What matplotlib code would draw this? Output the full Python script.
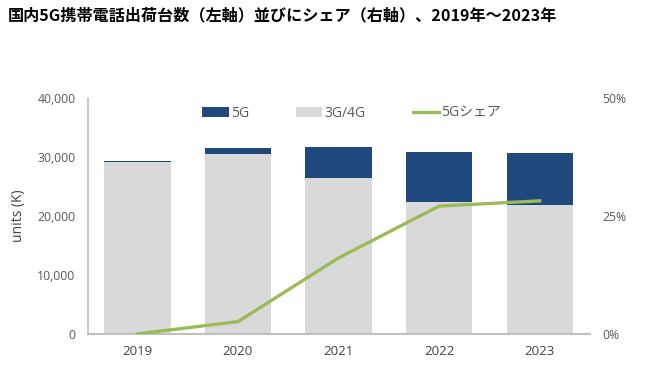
import numpy as np
from matplotlib import pyplot as plt

plt.rcParams['font.family'] = ['Open Sans', 'Noto Sans CJK JP', 'DejaVu Sans']

# data (thousand units, share in %)
years = ['2019', '2020', '2021', '2022', '2023']
units_5g = [100, 1000, 5300, 8400, 8800]
units_3g4g = [29200, 30500, 26400, 22400, 21900]
share_5g = [0.0, 2.6, 16.1, 27.1, 28.2]

c_5g = '#1f497d'
c_old = '#d9d9d9'
c_line = '#9bbb59'
c_txt = '#595959'

fig = plt.figure(figsize=(6.52, 3.86), dpi=100)
ax = fig.add_axes([0.135, 0.135, 0.77, 0.611])
x = np.arange(len(years))

b1 = ax.bar(x, units_3g4g, width=0.66, color=c_old, label='3G/4G', zorder=2)
b2 = ax.bar(x, units_5g, width=0.66, bottom=units_3g4g, color=c_5g, label='5G', zorder=2)

ax.set_xlim(-0.49, 4.5)
ax.set_ylim(0, 40000)
ax.set_yticks([0, 10000, 20000, 30000, 40000])
ax.set_yticklabels(['0', '10,000', '20,000', '30,000', '40,000'])
ax.set_xticks(x)
ax.set_xticklabels(years)
ax.tick_params(axis='y', length=0, labelsize=8.8, colors=c_txt, pad=9)
ax.tick_params(axis='x', length=0, labelsize=9.5, colors='#404040', pad=8)
ax.set_ylabel('units (K)', fontsize=10, color='#404040', labelpad=8)
for s in ['top', 'right']:
    ax.spines[s].set_visible(False)
ax.spines['left'].set_color('#bfbfbf')
ax.spines['bottom'].set_color('#bfbfbf')
ax.spines['left'].set_linewidth(1.2)
ax.spines['bottom'].set_linewidth(1.5)

ax2 = ax.twinx()
ln, = ax2.plot(x, share_5g, color=c_line, linewidth=2.4, label='5Gシェア', zorder=3)
ax2.set_ylim(0, 50)
ax2.set_yticks([0, 25, 50])
ax2.set_yticklabels(['0%', '25%', '50%'])
ax2.tick_params(axis='y', length=0, labelsize=8.8, colors=c_txt, pad=9)
for s in ax2.spines.values():
    s.set_visible(False)

ax.legend([b2, b1, ln], ['5G', '3G/4G', '5Gシェア'], loc='upper center',
          bbox_to_anchor=(0.525, 1.02), ncol=3, frameon=False, fontsize=10,
          labelcolor=c_txt, handlelength=1.9, handleheight=0.7,
          handletextpad=0.15, columnspacing=3.4)

fig.text(0.012, 0.96, '国内5G携帯電話出荷台数（左軸）並びにシェア（右軸）、2019年～2023年',
         fontsize=11.6, fontweight='bold', family=['Noto Sans CJK JP', 'DejaVu Sans'],
         va='center')

fig.savefig('out.png', dpi=100)
